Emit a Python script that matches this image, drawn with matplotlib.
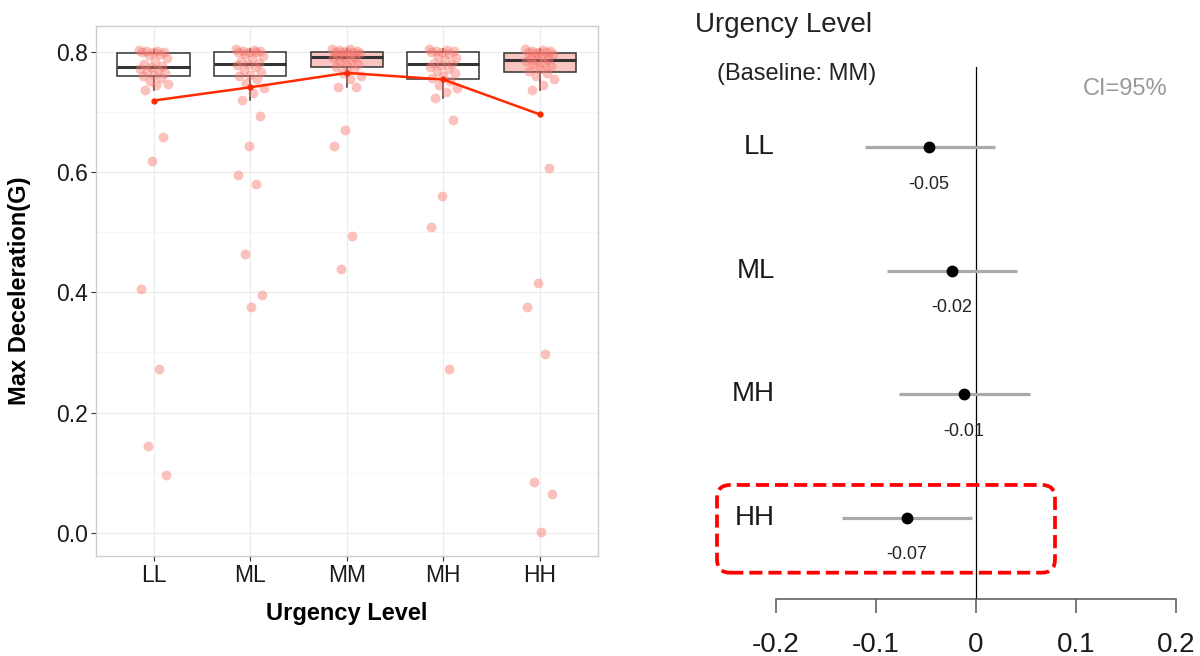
import matplotlib.pyplot as plt
import numpy as np
from matplotlib.patches import FancyBboxPatch

plt.rcParams["font.family"] = ["Liberation Sans", "DejaVu Sans"]

# ---- left panel: max deceleration by urgency level ----
levels = ["LL", "ML", "MM", "MH", "HH"]

decel_ll = [0.803, 0.802, 0.801, 0.800, 0.800, 0.799, 0.797, 0.795, 0.790, 0.785,
            0.780, 0.776, 0.774, 0.772, 0.770, 0.768, 0.765, 0.762, 0.760, 0.757,
            0.752, 0.747, 0.745, 0.737, 0.659, 0.619, 0.405, 0.272, 0.145, 0.097]
decel_ml = [0.804, 0.803, 0.802, 0.801, 0.800, 0.800, 0.799, 0.797, 0.793, 0.789,
            0.785, 0.781, 0.780, 0.778, 0.775, 0.770, 0.766, 0.762, 0.759, 0.755,
            0.748, 0.740, 0.731, 0.720, 0.694, 0.644, 0.595, 0.581, 0.464, 0.395, 0.375]
decel_mm = [0.805, 0.804, 0.803, 0.802, 0.801, 0.800, 0.800, 0.799, 0.798, 0.796,
            0.794, 0.792, 0.791, 0.789, 0.786, 0.783, 0.780, 0.777, 0.775, 0.770,
            0.765, 0.760, 0.755, 0.742, 0.741, 0.670, 0.644, 0.493, 0.439]
decel_mh = [0.804, 0.803, 0.802, 0.801, 0.800, 0.799, 0.797, 0.793, 0.790, 0.786,
            0.782, 0.780, 0.778, 0.775, 0.771, 0.768, 0.764, 0.760, 0.756, 0.752,
            0.745, 0.740, 0.733, 0.724, 0.686, 0.560, 0.509, 0.272]
decel_hh = [0.804, 0.803, 0.802, 0.801, 0.800, 0.800, 0.799, 0.798, 0.796, 0.793,
            0.790, 0.788, 0.787, 0.785, 0.782, 0.779, 0.776, 0.772, 0.768, 0.765,
            0.760, 0.755, 0.745, 0.737, 0.606, 0.415, 0.375, 0.297, 0.085, 0.064, 0.001]

box_q1 = [0.759, 0.759, 0.775, 0.754, 0.766]
box_med = [0.774, 0.780, 0.792, 0.780, 0.787]
box_q3 = [0.798, 0.800, 0.800, 0.800, 0.798]
box_lo = [0.737, 0.720, 0.742, 0.724, 0.737]
box_hi = [0.803, 0.804, 0.805, 0.804, 0.804]
mean_decel = [0.719, 0.741, 0.765, 0.754, 0.696]
shaded = ["MM", "HH"]

# ---- right panel: coefficients vs baseline MM ----
coef_levels = ["LL", "ML", "MH", "HH"]
coef_est = [-0.047, -0.024, -0.012, -0.069]
ci_low = [-0.111, -0.089, -0.077, -0.134]
ci_high = [0.019, 0.041, 0.054, -0.004]
coef_ticks = [-0.2, -0.1, 0, 0.1, 0.2]
coef_ticklabels = ["-0.2", "-0.1", "0", "0.1", "0.2"]

fig = plt.figure(figsize=(12, 6.56), dpi=100)

ax = fig.add_axes([0.0798, 0.1524, 0.4183, 0.808])
pos = np.arange(1, len(levels) + 1)
stats = [dict(med=m, q1=a, q3=b, whislo=lo, whishi=hi, fliers=[])
         for m, a, b, lo, hi in zip(box_med, box_q1, box_q3, box_lo, box_hi)]
bp = ax.bxp(stats, positions=pos, widths=0.75, patch_artist=True,
            showcaps=False, showfliers=False,
            boxprops=dict(edgecolor="#333333", linewidth=1.1),
            medianprops=dict(color="#333333", linewidth=2.2),
            whiskerprops=dict(color="#333333", linewidth=1.1))
for patch, lvl in zip(bp["boxes"], levels):
    patch.set_facecolor("#FAC5C1" if lvl in shaded else "white")

groups = [decel_ll, decel_ml, decel_mm, decel_mh, decel_hh]
for x, vals in zip(pos, groups):
    jit = ((np.arange(len(vals)) * 0.618034) % 1 - 0.5) * 0.3
    ax.scatter(x + jit, vals, s=50, color="#F8766D", alpha=0.45,
               linewidths=0, zorder=3)

ax.plot(pos, mean_decel, color="#FF2A00", lw=1.8, marker="o", ms=3.5, zorder=4)

ax.set_xlim(0.4, 5.6)
ax.set_ylim(-0.0385, 0.843)
ax.set_xticks(pos)
ax.set_xticklabels(levels)
ax.set_yticks([0.0, 0.2, 0.4, 0.6, 0.8])
ax.set_yticklabels(["0.0", "0.2", "0.4", "0.6", "0.8"])
ax.set_yticks([0.1, 0.3, 0.5, 0.7], minor=True)
ax.grid(True, which="major", color="#EBEBEB", lw=0.8)
ax.grid(True, which="minor", axis="y", color="#F5F5F5", lw=0.6)
ax.set_axisbelow(True)
ax.tick_params(which="major", length=3.5, width=0.8, color="#333333",
               labelsize=16.5, labelcolor="#1A1A1A", pad=2)
ax.tick_params(which="minor", length=0)
for sp in ax.spines.values():
    sp.set_color("#CCCCCC")
    sp.set_linewidth(1.0)
ax.set_xlabel("Urgency Level", fontsize=17, fontweight="bold", labelpad=11)
ax.set_ylabel("Max Deceleration(G)", fontsize=17, fontweight="bold", labelpad=18)

# forest plot of estimates
ax2 = fig.add_axes([0.575, 57 / 656, 0.425, 599 / 656])
rows = np.arange(len(coef_levels))
ax2.set_xlim(-0.286, 0.224)
ax2.set_ylim(3.658, -1.19)
for side in ["left", "right", "top"]:
    ax2.spines[side].set_visible(False)
ax2.spines["bottom"].set_bounds(coef_ticks[0], coef_ticks[-1])
ax2.spines["bottom"].set_color("#555555")
ax2.spines["bottom"].set_linewidth(1.1)
ax2.set_xticks(coef_ticks)
ax2.set_xticklabels(coef_ticklabels)
ax2.set_yticks([])
ax2.tick_params(axis="x", direction="out", length=10, width=1.1, color="#555555",
                labelsize=20, labelcolor="#1A1A1A", pad=14)
ax2.patch.set_visible(False)

ax2.axvline(0, ymin=0, ymax=(599 - 67) / 599, color="black", lw=0.9)
ax2.hlines(rows, ci_low, ci_high, color="#AAAAAA", lw=2.3)
ax2.plot(coef_est, rows, "o", color="black", ms=7.5, zorder=3)
for r, lvl, est in zip(rows, coef_levels, coef_est):
    ax2.text(-0.201, r, lvl, ha="right", va="center", fontsize=20, color="#1A1A1A")
    ax2.text(est, r + 0.30, f"{est:.2f}", ha="center", va="center",
             fontsize=13, color="#222222")

# dashed highlight around the HH row
hh = coef_levels.index("HH")
to_fig = ax2.transData + fig.transFigure.inverted()
(x0, y0), (x1, y1) = to_fig.transform([(-0.259, hh + 0.445), (0.079, hh - 0.265)])
box = FancyBboxPatch((x0, y0), x1 - x0, y1 - y0,
                     boxstyle="round,pad=0,rounding_size=0.011",
                     mutation_aspect=12 / 6.56, transform=fig.transFigure,
                     fill=False, edgecolor="#FF0000", lw=2.7,
                     linestyle=(0, (3.5, 1.6)))
fig.add_artist(box)

fig.text(695 / 1200, 1 - 32 / 656, "Urgency Level", fontsize=20,
         color="#222222", ha="left", va="baseline")
fig.text(717 / 1200, 1 - 80 / 656, "(Baseline: MM)", fontsize=17,
         color="#222222", ha="left", va="baseline")
fig.text(1083 / 1200, 1 - 95 / 656, "CI=95%", fontsize=17,
         color="#999999", ha="left", va="baseline")

fig.savefig("out.png", dpi=100)
